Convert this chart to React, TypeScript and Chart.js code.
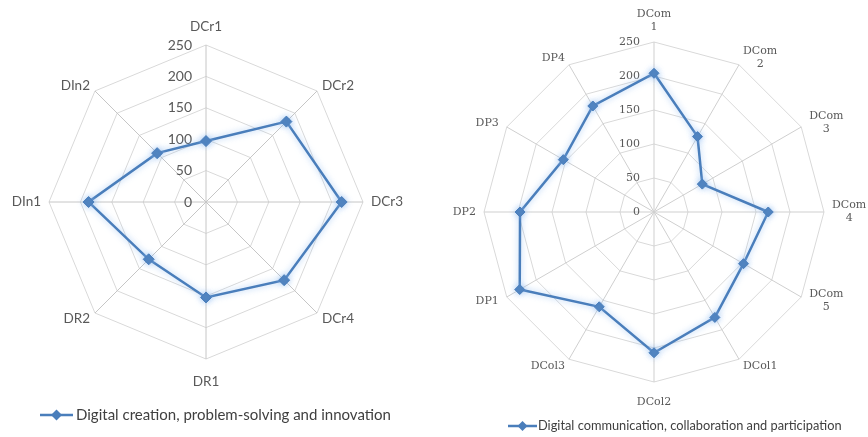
import React, { useEffect, useRef } from 'react';
import { Chart, registerables } from 'chart.js';

Chart.register(...registerables);

// ---------- DATA ----------
const leftCategories: (string | string[])[] = ['DCr1', 'DCr2', 'DCr3', 'DCr4', 'DR1', 'DR2', 'DIn1', 'DIn2'];
const leftValues: number[] = [97, 181, 216, 176, 152, 129, 187, 110];
const leftSeriesName = 'Digital creation, problem-solving and innovation';

const rightCategories: (string | string[])[] = [
  ['DCom', '1'], ['DCom', '2'], ['DCom', '3'], ['DCom', '4'], ['DCom', '5'],
  'DCol1', 'DCol2', 'DCol3', 'DP1', 'DP2', 'DP3', 'DP4',
];
const rightValues: number[] = [204, 128, 82, 168, 152, 179, 207, 161, 228, 197, 154, 180];
const rightSeriesName = 'Digital communication, collaboration and participation';

const axisMin = 0;
const axisMax = 250;
const axisStep = 50;

// ---------- STYLE ----------
type Cfg = {
  labelFont: string;
  tickFont: string;
  legendFont: string;
  labelColor: string;
  padSide: number;
  padDiag: number;
  diagY: number;
  topOff: number;
  bottomOff: number;
  lineH: number;
  tickGap: number;
  legend: { x1: number; x2: number; y: number; tx: number };
  pointRadius: number;
};

const LINE_COLOR = '#4a7ebb';

function makePlugin(cfg: Cfg) {
  return {
    id: 'customRadialText',
    beforeDatasetsDraw(chart: any) {
      const ctx = chart.ctx;
      const scale = chart.scales.r;
      ctx.save();
      ctx.font = cfg.tickFont;
      ctx.fillStyle = cfg.labelColor;
      ctx.textAlign = 'right';
      ctx.textBaseline = 'middle';
      for (const t of scale.ticks) {
        const d = scale.getDistanceFromCenterForValue(t.value);
        ctx.fillText(String(t.label), scale.xCenter - cfg.tickGap, scale.yCenter - d);
      }
      ctx.restore();
    },
    beforeDatasetDraw(chart: any) {
      const ctx = chart.ctx;
      ctx.save();
      ctx.shadowColor = 'rgba(140,185,240,0.75)';
      ctx.shadowBlur = 6;
    },
    afterDatasetDraw(chart: any) {
      chart.ctx.restore();
    },
    afterDraw(chart: any) {
      const ctx = chart.ctx;
      const scale = chart.scales.r;
      const labels = chart.data.labels as (string | string[])[];
      const r = scale.drawingArea;
      ctx.save();
      ctx.font = cfg.labelFont;
      ctx.fillStyle = cfg.labelColor;
      ctx.textBaseline = 'middle';
      labels.forEach((lab, i) => {
        const p = scale.getPointPosition(i, r);
        const dx = (p.x - scale.xCenter) / r;
        const dy = (p.y - scale.yCenter) / r;
        const lines = Array.isArray(lab) ? lab : [lab];
        const w = Math.max(...lines.map((l) => ctx.measureText(l).width));
        let cx: number;
        if (Math.abs(dx) < 0.01) cx = p.x;
        else {
          const pad = Math.abs(dx) > 0.8 ? cfg.padSide : cfg.padDiag;
          cx = dx > 0 ? p.x + pad + w / 2 : p.x - pad - w / 2;
        }
        let cy: number;
        if (Math.abs(dy) > 0.99) cy = p.y + (dy < 0 ? -cfg.topOff : cfg.bottomOff);
        else cy = p.y + dy * cfg.diagY;
        const h = lines.length * cfg.lineH;
        ctx.textAlign = 'center';
        lines.forEach((l, k) => {
          ctx.fillText(l, cx, cy - h / 2 + cfg.lineH * (k + 0.5));
        });
      });

      // legend
      const ds = chart.data.datasets[0];
      const L = cfg.legend;
      ctx.strokeStyle = LINE_COLOR;
      ctx.lineWidth = 2.5;
      ctx.beginPath();
      ctx.moveTo(L.x1, L.y);
      ctx.lineTo(L.x2, L.y);
      ctx.stroke();
      const mx = (L.x1 + L.x2) / 2;
      const s = cfg.pointRadius;
      ctx.fillStyle = LINE_COLOR;
      ctx.beginPath();
      ctx.moveTo(mx, L.y - s);
      ctx.lineTo(mx + s, L.y);
      ctx.lineTo(mx, L.y + s);
      ctx.lineTo(mx - s, L.y);
      ctx.closePath();
      ctx.fill();
      ctx.font = cfg.legendFont;
      ctx.fillStyle = '#404040';
      ctx.textAlign = 'left';
      ctx.textBaseline = 'middle';
      ctx.fillText(ds.label, L.tx, L.y);
      ctx.restore();
    },
  };
}

function RadarPanel(props: {
  categories: (string | string[])[];
  values: number[];
  name: string;
  padding: { left: number; right: number; top: number; bottom: number };
  cfg: Cfg;
  gridColor: string;
  angleColor: string;
}) {
  const ref = useRef<HTMLCanvasElement | null>(null);
  useEffect(() => {
    if (!ref.current) return;
    const chart = new Chart(ref.current, {
      type: 'radar',
      data: {
        labels: props.categories as any,
        datasets: [
          {
            label: props.name,
            data: props.values,
            borderColor: LINE_COLOR,
            backgroundColor: LINE_COLOR,
            borderWidth: 2.5,
            fill: false,
            pointStyle: 'rectRot',
            pointRadius: props.cfg.pointRadius,
            pointBackgroundColor: LINE_COLOR,
            pointBorderColor: LINE_COLOR,
            pointBorderWidth: 1,
            tension: 0,
          },
        ],
      },
      options: {
        animation: false,
        responsive: false,
        maintainAspectRatio: false,
        layout: { padding: props.padding },
        plugins: {
          legend: { display: false },
          tooltip: { enabled: false },
        },
        scales: {
          r: {
            min: axisMin,
            max: axisMax,
            beginAtZero: true,
            ticks: { stepSize: axisStep, display: false },
            grid: { color: props.gridColor, lineWidth: 1, circular: false },
            angleLines: { color: props.angleColor, lineWidth: 1 },
            pointLabels: { display: false },
          },
        },
      },
      plugins: [makePlugin(props.cfg) as any],
    });
    return () => chart.destroy();
  }, []);
  return <canvas ref={ref} width={434} height={437} style={{ display: 'block', width: 434, height: 437 }} />;
}

const leftCfg: Cfg = {
  labelFont: '13.5px Lato',
  tickFont: '14px Lato',
  legendFont: '15px Lato',
  labelColor: '#595959',
  padSide: 8,
  padDiag: 5,
  diagY: 8,
  topOff: 18,
  bottomOff: 23,
  lineH: 14,
  tickGap: 14,
  legend: { x1: 40, x2: 73, y: 415, tx: 76 },
  pointRadius: 5.5,
};

const rightCfg: Cfg = {
  labelFont: '11px "DejaVu Serif"',
  tickFont: '11px "DejaVu Serif"',
  legendFont: '12.8px Lato',
  labelColor: '#595959',
  padSide: 8,
  padDiag: 4,
  diagY: 8,
  topOff: 21,
  bottomOff: 20,
  lineH: 13,
  tickGap: 14,
  legend: { x1: 74, x2: 103, y: 426, tx: 104 },
  pointRadius: 5,
};

export default function App() {
  return (
    <div style={{ position: 'fixed', left: 0, top: 0, width: 868, height: 437, background: '#fff', display: 'flex' }}>
      <RadarPanel
        categories={leftCategories}
        values={leftValues}
        name={leftSeriesName}
        padding={{ left: 49, right: 71, top: 45, bottom: 78 }}
        cfg={leftCfg}
        gridColor="#d9d9d9"
        angleColor="#c6c6c6"
      />
      <RadarPanel
        categories={rightCategories}
        values={rightValues}
        name={rightSeriesName}
        padding={{ left: 50, right: 44, top: 42, bottom: 55 }}
        cfg={rightCfg}
        gridColor="#d9d9d9"
        angleColor="#cfcfcf"
      />
    </div>
  );
}
